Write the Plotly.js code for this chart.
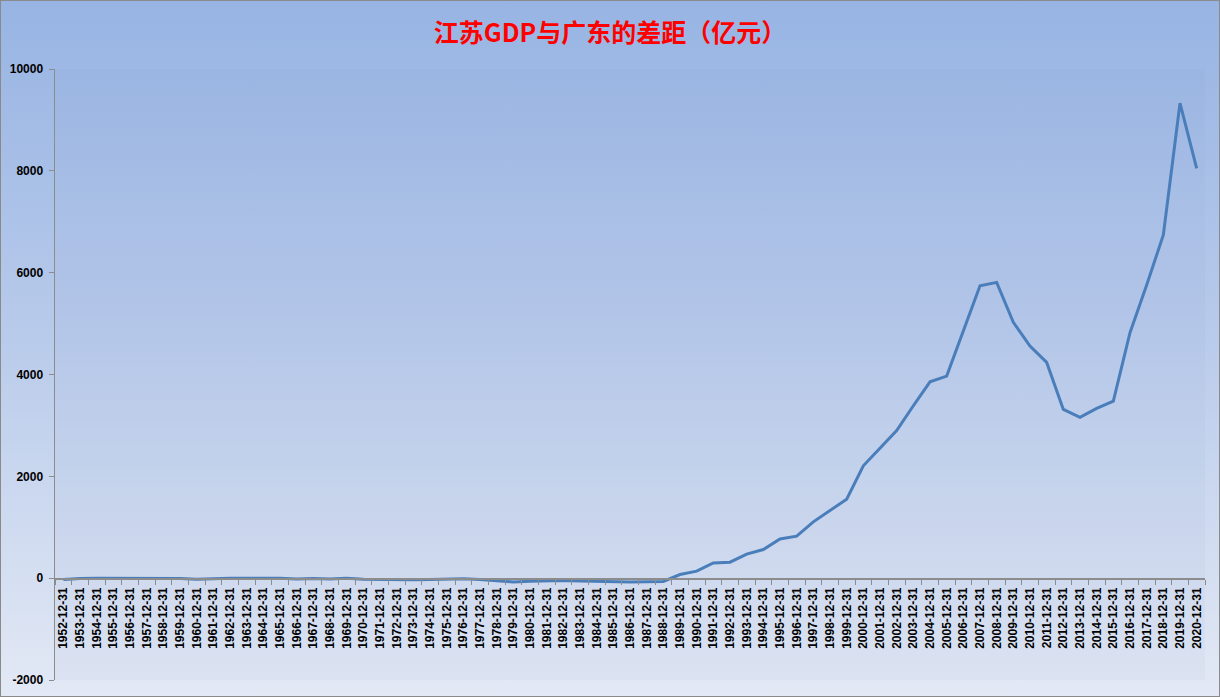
<!DOCTYPE html>
<html>
<head>
<meta charset="utf-8">
<script src="https://cdn.plot.ly/plotly-3.0.1.min.js"></script>
<style>
    html, body { margin: 0; padding: 0; }
    #chart {
        width: 1218px;
        height: 695px;
        border: 1px solid #8a8a8a;
        background: linear-gradient(to bottom, #97b4e3 0%, #b6c9ea 45%, #e3e9f5 100%);
    }
</style>
</head>
<body>
<div id="chart"></div>
<script>
// 年份 (每年 12-31)
const years = [];
for (let y = 1952; y <= 2020; y++) years.push(y + '-12-31');

// 江苏GDP - 广东GDP (亿元)
const gapValues = [
    -25, -5, 0, 0, 0, 0, 0, -5, -20, -5,          // 1952-1961
    0, 0, 0, 0, -15, -5, -15, 0, -20, -25,        // 1962-1971
    -25, -30, -25, -15, -10, -25, -45, -75, -60, -55, // 1972-1981
    -45, -55, -60, -75, -75, -70, -65, 72, 137, 300,  // 1982-1991
    314, 472, 563, 770, 825, 1106, 1330, 1552, 2207, 2561, // 1992-2001
    2900, 3386, 3857, 3969, 4850, 5744, 5810, 5024, 4559, 4238, // 2002-2011
    3315, 3158, 3335, 3478, 4820, 5757, 6740, 9328, 8050,      // 2012-2020
];

const yTicks = [-2000, 0, 2000, 4000, 6000, 8000, 10000];
const yMin = -2000;
const yMax = 10000;

const trace = {
    x: years,
    y: gapValues,
    type: 'scatter',
    mode: 'lines',
    line: { color: '#4a7ebb', width: 3 },
    hoverinfo: 'x+y',
};

const tickFont = { family: 'Arial, "Liberation Sans", sans-serif', size: 12, color: '#000000', weight: 'bold' };

const layout = {
    width: 1218,
    height: 695,
    showlegend: false,
    paper_bgcolor: 'rgba(0,0,0,0)',
    plot_bgcolor: 'rgba(110,140,205,0.05)',
    margin: { l: 54, r: 14, t: 68, b: 16, pad: 0 },
    title: {
        text: '<b>江苏GDP与广东的差距（亿元）</b>',
        font: { family: '"Noto Sans CJK SC", sans-serif', size: 25, color: '#ff0000' },
        x: 0.5,
        xanchor: 'center',
        y: 0.953,
        yanchor: 'middle',
    },
    xaxis: {
        type: 'category',
        range: [-0.5, years.length - 0.5],
        tickangle: -90,
        tickson: 'boundaries',
        ticks: 'outside',
        ticklen: 5,
        tickcolor: '#8c8c8c',
        ticklabelstandoff: 3,
        showline: true,
        linecolor: '#8c8c8c',
        linewidth: 1.5,
        showgrid: false,
        zeroline: false,
        anchor: 'free',
        // x 轴压在 y=0 处
        position: (0 - yMin) / (yMax - yMin),
        tickfont: tickFont,
    },
    yaxis: {
        range: [yMin, yMax],
        tickvals: yTicks,
        ticktext: yTicks.map(String),
        ticks: 'outside',
        ticklen: 5,
        tickcolor: '#8c8c8c',
        ticklabelstandoff: 3,
        showline: true,
        linecolor: '#8c8c8c',
        linewidth: 1.5,
        showgrid: false,
        zeroline: false,
        tickfont: tickFont,
    },
};

try {
    Plotly.newPlot('chart', [trace], layout, { displayModeBar: false, staticPlot: true });
} catch (e) {
    console.log(e);
}
</script>
</body>
</html>
